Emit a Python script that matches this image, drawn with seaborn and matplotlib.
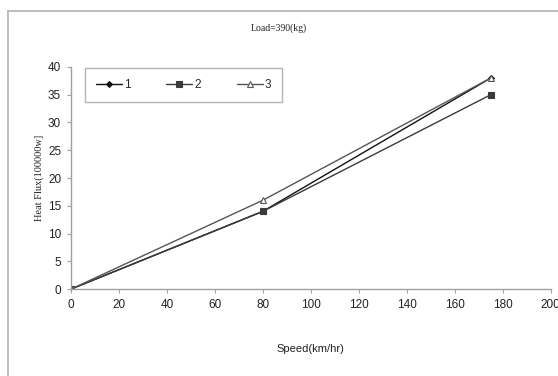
import matplotlib
matplotlib.use("Agg")
import matplotlib.pyplot as plt
import seaborn as sns
import pandas as pd
from matplotlib.lines import Line2D

speed = [0, 80, 175]
series1 = [0, 14, 38]
series2 = [0, 14, 35]
series3 = [0, 16, 38]
labels = ["1", "2", "3"]
title = "Load=390(kg)"
xlabel = "Speed(km/hr)"
ylabel = "Heat Flux(100000w]"

sns.set_style("white")
plt.rcParams['font.family'] = ['Liberation Sans', 'DejaVu Sans']

rows = []
for lab, ys in zip(labels, [series1, series2, series3]):
    for x, y in zip(speed, ys):
        rows.append({"speed": x, "flux": y, "series": lab})
df = pd.DataFrame(rows)

fig = plt.figure(figsize=(5.58, 3.76), dpi=100)
ax = fig.add_axes([0.127, 0.231, 0.86, 0.591])

colors = {"1": "#111111", "2": "#3a3a3a", "3": "#555555"}
markers = {"1": "D", "2": "s", "3": "^"}
msizes = {"1": 3, "2": 4, "3": 5}
faces = {"1": "#111111", "2": "#3a3a3a", "3": "white"}
for lab in labels:
    sub = df[df["series"] == lab]
    sns.lineplot(data=sub, x="speed", y="flux", ax=ax, color=colors[lab], lw=1.0,
                 marker=markers[lab], markersize=msizes[lab], markerfacecolor=faces[lab],
                 markeredgecolor=colors[lab], markeredgewidth=0.8, legend=False, sort=False)

ax.set_xlim(0, 200)
ax.set_ylim(0, 40)
ax.set_xticks(range(0, 201, 20))
ax.set_yticks(range(0, 41, 5))
for s in ["top", "right"]:
    ax.spines[s].set_visible(False)
for s in ["left", "bottom"]:
    ax.spines[s].set_color("#a0a0a0")
    ax.spines[s].set_linewidth(1.0)
ax.tick_params(axis="both", direction="out", length=3, width=0.8, color="#a0a0a0",
               labelsize=8.5, labelcolor="#222222", pad=4, bottom=True, left=True)
ax.set_xlabel(xlabel, fontsize=8, color="#222222", labelpad=24)
ax.set_ylabel(ylabel, fontsize=7.5, family="Liberation Serif", color="#222222", labelpad=3)
fig.text(0.5, 0.925, title, ha="center", va="center", fontsize=7, family="Liberation Serif", color="#222222")

handles = [Line2D([0], [0], color=colors[l], lw=1.0, marker=markers[l], markersize=msizes[l],
                  markerfacecolor=faces[l], markeredgecolor=colors[l], markeredgewidth=0.8) for l in labels]
leg = ax.legend(handles, labels, ncol=3, loc="upper left", bbox_to_anchor=(0.018, 1.02),
                frameon=True, fancybox=False, edgecolor="#a0a0a0", fontsize=8.5,
                handlelength=2.2, columnspacing=3.0, borderpad=0.9, handletextpad=0.2)
leg.get_frame().set_linewidth(1.0)

fig.add_artist(Line2D([8/558, 1], [1-11/376, 1-11/376], transform=fig.transFigure, color="#b0b0b0", lw=1.2))
fig.add_artist(Line2D([8/558, 8/558], [0, 1-11/376], transform=fig.transFigure, color="#b0b0b0", lw=1.2))

fig.savefig("out.png", dpi=100)
